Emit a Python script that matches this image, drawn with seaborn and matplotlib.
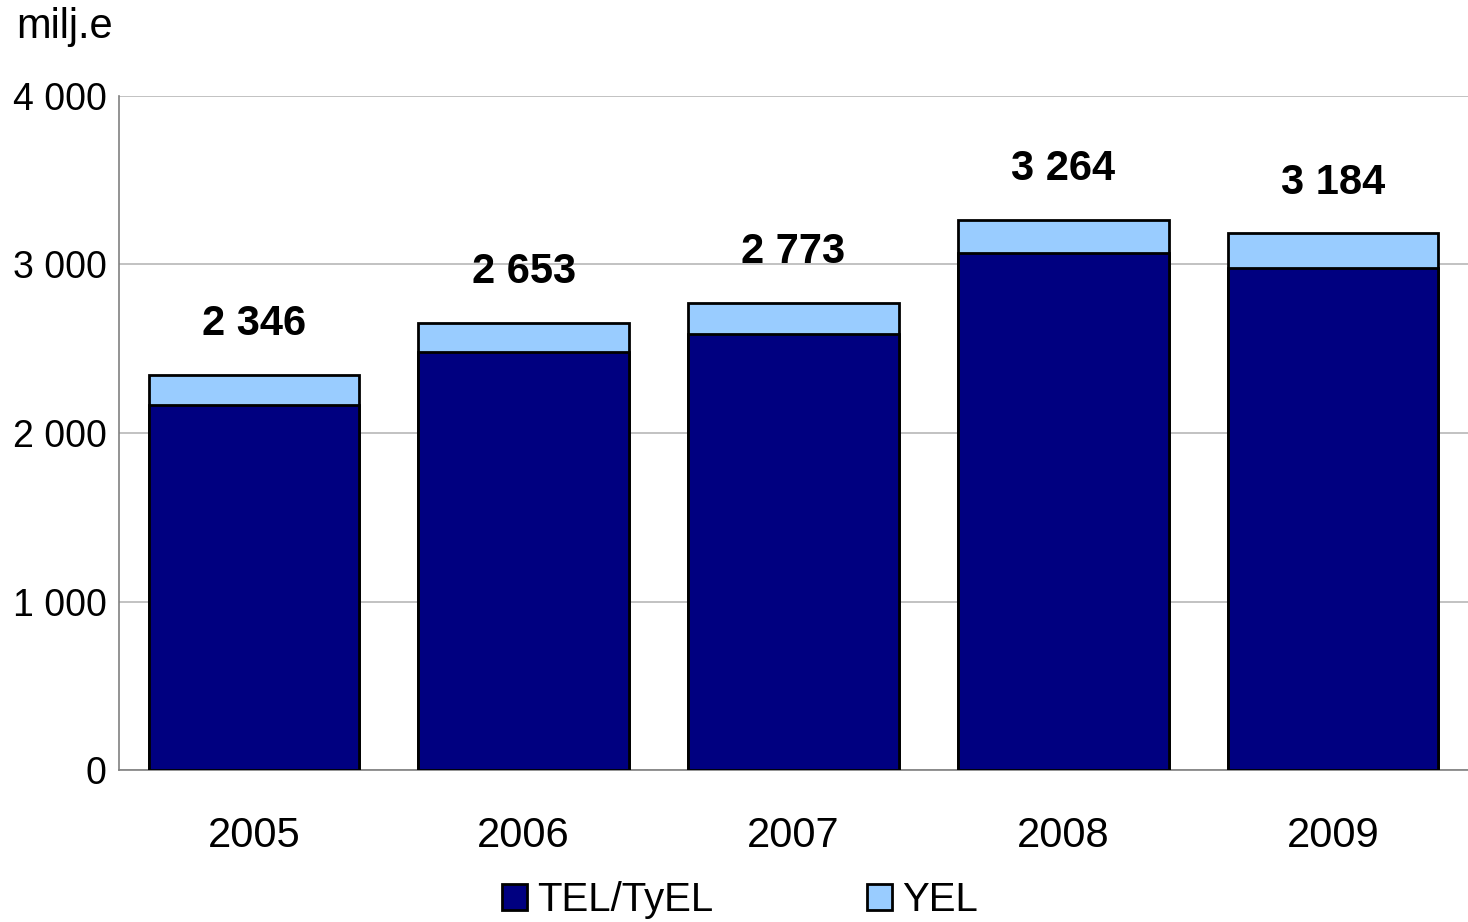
import matplotlib
matplotlib.use("Agg")
import matplotlib.pyplot as plt
from matplotlib.patches import Patch
import seaborn as sns
import pandas as pd

years = ["2005", "2006", "2007", "2008", "2009"]
tel_tyel = [2167, 2483, 2588, 3066, 2979]
yel = [179, 170, 185, 198, 205]
totals = [a + b for a, b in zip(tel_tyel, yel)]
y_ticks = [0, 1000, 2000, 3000, 4000]

DARK = "#000080"
LIGHT = "#99ccff"

sns.set_theme(style="white")
plt.rcParams["font.family"] = ["Liberation Sans", "DejaVu Sans"]
plt.rcParams["text.color"] = "black"
plt.rcParams["xtick.color"] = "black"
plt.rcParams["ytick.color"] = "black"
plt.rcParams["xtick.labelcolor"] = "black"
plt.rcParams["ytick.labelcolor"] = "black"

df = pd.DataFrame({"year": years, "tel": tel_tyel, "total": totals})

fig = plt.figure(figsize=(14.68, 9.22), dpi=100)
ax = fig.add_axes([119 / 1468, (922 - 770) / 922, 1 - 119 / 1468, (770 - 96) / 922])

# stacked bars: full total in light blue, TEL/TyEL part drawn over it
sns.barplot(data=df, x="year", y="total", color=LIGHT, saturation=1, width=0.78,
            edgecolor="black", linewidth=2.0, ax=ax, zorder=3)
sns.barplot(data=df, x="year", y="tel", color=DARK, saturation=1, width=0.78,
            edgecolor="black", linewidth=2.0, ax=ax, zorder=4)

def fmt(v):
    return f"{v:,}".replace(",", " ")

for i, t in enumerate(totals):
    ax.text(i, t + 300, fmt(t), ha="center", va="center", fontsize=30,
            fontweight="bold", color="black", zorder=5)

ax.set_xlim(-0.5, len(years) - 0.5)
ax.set_ylim(0, 4000)
ax.set_yticks(y_ticks)
ax.set_yticklabels([fmt(v) for v in y_ticks], fontsize=27, color="black")
ax.set_xticks(range(len(years)))
ax.set_xticklabels(years, fontsize=30, color="black")
ax.set_xticks([i - 0.5 for i in range(len(years) + 1)], minor=True)
ax.tick_params(axis="x", which="major", length=0, pad=33)
ax.tick_params(axis="x", which="minor", length=9, width=1, color="#808080", direction="out")
ax.tick_params(axis="y", which="major", length=0, pad=9)
ax.set_xlabel("")
ax.set_ylabel("")

ax.yaxis.grid(True, color="#b8b8b8", linewidth=1.2, zorder=0)
ax.set_axisbelow(True)
for side in ["top", "right"]:
    ax.spines[side].set_visible(False)
for side in ["left", "bottom"]:
    ax.spines[side].set_color("#808080")
    ax.spines[side].set_linewidth(1.2)

fig.text(16 / 1468, 1 - 27 / 922, "milj.e", fontsize=30, ha="left", va="center",
         color="black")

handles = [Patch(facecolor=DARK, edgecolor="black", linewidth=2, label="TEL/TyEL"),
           Patch(facecolor=LIGHT, edgecolor="black", linewidth=2, label="YEL")]
fig.legend(handles=handles, loc="center", bbox_to_anchor=(740 / 1468, 1 - 900 / 922),
           ncol=2, frameon=False, fontsize=29, handlelength=0.62, handleheight=0.62,
           handletextpad=0.25, columnspacing=3.8, borderaxespad=0, borderpad=0,
           labelcolor="black")

fig.savefig("out.png", dpi=100)
